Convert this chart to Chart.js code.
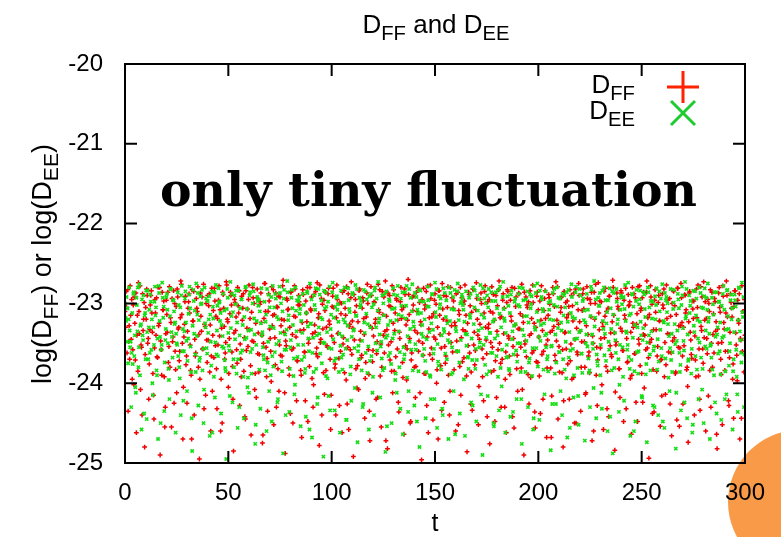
<!DOCTYPE html>
<html>
<head>
<meta charset="utf-8">
<script src="https://cdn.jsdelivr.net/npm/chart.js@4/dist/chart.umd.min.js"></script>
<style>
  html, body { margin: 0; padding: 0; background: #fff; }
  canvas { display: block; }
</style>
</head>
<body>
<canvas id="myChart" width="781" height="537"></canvas>
<script>
// sampling: one value every half unit of t, plus a second set shifted by a quarter
const tStep = 0.5
const tShift = 0.25
const xTicks = [0, 50, 100, 150, 200, 250, 300]
const yTicks = [-25, -24, -23, -22, -21, -20]

// log(D_FF) at t = 0, 0.5, 1, ...
const dff = [
  -23.10,-22.85,-23.62,-24.35,-23.28,-22.78,-23.45,-23.95,-23.02,-22.92,-23.71,-24.62,-23.15,-22.74,-23.38,-24.08,-23.55,-22.88,-23.20,-24.80,
  -23.05,-22.82,-23.50,-24.20,-23.33,-22.90,-23.12,-23.88,-24.45,-22.95,-23.40,-23.67,-22.80,-23.25,-24.90,-23.58,-22.86,-23.08,-23.92,-24.30,
  -22.96,-23.36,-23.74,-22.79,-23.18,-24.55,-23.48,-22.84,-23.00,-23.83,-24.12,-22.92,-23.30,-23.60,-22.72,-23.14,-24.70,-23.42,-22.98,-23.77,
  -24.25,-23.06,-22.88,-23.52,-23.90,-22.83,-23.22,-24.40,-23.66,-22.94,-23.10,-23.80,-24.95,-22.87,-23.35,-23.57,-22.76,-23.26,-24.15,-23.46,
  -22.90,-23.03,-23.86,-24.60,-22.81,-23.40,-23.68,-22.97,-23.16,-24.32,-23.52,-22.78,-23.08,-23.95,-24.50,-22.89,-23.29,-23.62,-22.73,-23.20,
  -24.05,-23.44,-22.86,-23.02,-23.79,-24.85,-22.95,-23.34,-23.58,-22.80,-23.12,-24.28,-23.70,-22.91,-23.06,-23.85,-24.42,-22.84,-23.31,-23.54,
  -22.77,-23.19,-24.65,-23.47,-22.93,-23.00,-23.88,-24.18,-22.82,-23.37,-23.64,-22.98,-23.24,-24.75,-23.50,-22.75,-23.10,-23.92,-24.35,-22.88,
  -23.32,-23.60,-22.79,-23.15,-24.52,-23.43,-22.87,-23.04,-23.82,-24.10,-22.92,-23.28,-23.66,-22.71,-23.21,-24.88,-23.53,-22.96,-23.07,-23.90,
  -24.38,-22.85,-23.39,-23.56,-22.78,-23.17,-24.22,-23.72,-22.90,-23.02,-23.84,-24.68,-22.83,-23.33,-23.61,-22.97,-23.23,-24.48,-23.45,-22.80,
  -23.09,-23.94,-24.30,-22.89,-23.36,-23.63,-22.74,-23.18,-24.78,-23.49,-22.94,-23.01,-23.87,-24.14,-22.86,-23.30,-23.55,-22.81,-23.26,-24.58,
  -23.41,-22.91,-23.05,-23.81,-24.40,-22.77,-23.38,-23.69,-22.99,-23.13,-24.62,-23.51,-22.84,-23.06,-23.96,-24.26,-22.88,-23.29,-23.58,-22.73,
  -23.22,-24.92,-23.46,-22.95,-23.03,-23.78,-24.08,-22.82,-23.35,-23.65,-22.93,-23.19,-24.44,-23.74,-22.87,-23.00,-23.89,-24.72,-22.79,-23.31,
  -23.59,-22.98,-23.25,-24.20,-23.48,-22.76,-23.11,-23.91,-24.55,-22.85,-23.40,-23.62,-22.72,-23.16,-24.82,-23.52,-22.90,-23.04,-23.85,-24.12,
  -22.83,-23.34,-23.67,-22.96,-23.21,-24.36,-23.44,-22.80,-23.08,-23.93,-24.64,-22.89,-23.27,-23.57,-22.70,-23.14,-24.50,-23.71,-22.92,-23.02,
  -23.80,-24.18,-22.86,-23.37,-23.60,-22.99,-23.23,-24.96,-23.50,-22.81,-23.07,-23.88,-24.28,-22.78,-23.32,-23.64,-22.94,-23.17,-24.46,-23.42,
  -22.88,-23.01,-23.83,-24.70,-22.84,-23.39,-23.56,-22.75,-23.20,-24.24,-23.75,-22.91,-23.05,-23.90,-24.40,-22.80,-23.28,-23.61,-22.97,-23.24,
  -24.60,-23.47,-22.86,-23.09,-23.79,-24.15,-22.93,-23.33,-23.68,-22.77,-23.15,-24.86,-23.53,-22.89,-23.03,-23.86,-24.34,-22.82,-23.36,-23.59,
  -22.74,-23.20,-24.52,-23.45,-22.95,-23.00,-23.92,-24.22,-22.85,-23.30,-23.63,-22.98,-23.26,-24.76,-23.49,-22.79,-23.12,-23.84,-24.48,-22.90,
  -23.35,-23.58,-22.72,-23.18,-24.30,-23.70,-22.88,-23.06,-23.95,-24.62,-22.83,-23.41,-23.66,-22.96,-23.22,-24.42,-23.44,-22.81,-23.04,-23.82,
  -24.10,-22.87,-23.32,-23.55,-22.76,-23.16,-24.90,-23.51,-22.92,-23.02,-23.89,-24.26,-22.84,-23.38,-23.62,-22.99,-23.25,-24.56,-23.73,-22.86,
  -23.08,-23.91,-24.38,-22.78,-23.34,-23.60,-22.94,-23.19,-24.68,-23.46,-22.89,-23.01,-23.81,-24.16,-22.80,-23.29,-23.65,-22.73,-23.21,-24.45,
  -23.54,-22.93,-23.05,-23.87,-24.80,-22.85,-23.36,-23.57,-22.97,-23.14,-24.20,-23.72,-22.90,-23.03,-23.93,-24.50,-22.82,-23.31,-23.64,-22.75,
  -23.23,-24.35,-23.48,-22.88,-23.07,-23.80,-24.12,-22.79,-23.39,-23.61,-22.95,-23.17,-24.72,-23.50,-22.86,-23.00,-23.90,-24.28,-22.74,-23.33,
  -23.56,-22.98,-23.24,-24.58,-23.43,-22.81,-23.10,-23.85,-24.42,-22.91,-23.37,-23.67,-22.71,-23.15,-24.84,-23.52,-22.87,-23.04,-23.82,-24.18,
  -22.84,-23.35,-23.59,-22.96,-23.20,-24.32,-23.74,-22.89,-23.02,-23.94,-24.64,-22.80,-23.30,-23.63,-22.93,-23.26,-24.48,-23.45,-22.78,-23.09,
  -23.88,-24.24,-22.86,-23.40,-23.58,-22.72,-23.18,-24.94,-23.49,-22.92,-23.01,-23.83,-24.36,-22.83,-23.33,-23.66,-22.99,-23.22,-24.54,-23.70,
  -22.88,-23.06,-23.92,-24.14,-22.77,-23.38,-23.61,-22.94,-23.16,-24.66,-23.47,-22.85,-23.03,-23.86,-24.46,-22.81,-23.28,-23.56,-22.75,-23.24,
  -24.26,-23.53,-22.90,-23.08,-23.80,-24.74,-22.87,-23.36,-23.64,-22.97,-23.19,-24.40,-23.71,-22.82,-23.05,-23.91,-24.20,-22.79,-23.34,-23.57,
  -22.73,-23.21,-24.60,-23.44,-22.95,-23.00,-23.84,-24.30,-22.86,-23.39,-23.62,-22.98,-23.23,-24.82,-23.50,-22.80,-23.11,-23.89,-24.52,-22.91,
  -23.32,-23.60,-22.72,-23.17,-24.22,-23.68,-22.88,-23.06,-23.95,-24.44,-22.84,-23.37,-23.65,-22.96,-23.25,-24.70,-23.46,-22.78,-23.10,-23.86,
  -23.40
]

// log(D_FF) at t = 0.25, 0.75, 1.25, ...
const dffQ = [
  -23.30,-23.05,-22.83,-23.48,-23.70,-23.15,-22.95,-23.58,-24.02,-23.25,-22.87,-23.40,-23.85,-23.10,-22.78,-23.52,-24.40,-23.34,-22.99,-23.64,
  -23.20,-22.90,-23.44,-23.76,-23.02,-22.84,-23.36,-24.15,-23.56,-23.12,-22.93,-23.68,-23.28,-22.80,-23.47,-23.90,-23.08,-22.97,-24.55,-23.38,
  -23.14,-22.86,-23.54,-23.80,-23.24,-22.94,-23.42,-24.25,-23.60,-23.04,-22.82,-23.32,-23.72,-23.18,-22.76,-23.50,-24.05,-23.26,-22.91,-23.66,
  -23.35,-22.98,-23.12,-23.84,-24.70,-23.22,-22.85,-23.45,-23.62,-23.06,-22.79,-23.39,-23.95,-23.16,-22.92,-23.57,-24.32,-23.29,-23.00,-23.74,
  -23.46,-22.88,-23.27,-23.66,-24.10,-23.09,-22.81,-23.53,-23.82,-23.19,-22.96,-23.41,-24.60,-23.31,-22.86,-23.06,-23.70,-23.49,-22.77,-23.23,
  -23.88,-23.13,-22.90,-23.61,-24.20,-23.37,-22.99,-23.17,-23.75,-23.03,-22.84,-23.51,-23.92,-23.21,-22.88,-23.43,-24.45,-23.59,-23.07,-22.95,
  -23.33,-23.78,-23.11,-22.80,-23.48,-24.08,-23.25,-22.93,-23.63,-23.86,-23.01,-22.87,-23.40,-24.65,-23.19,-22.75,-23.55,-23.69,-23.10,-22.97,
  -23.44,-23.98,-23.28,-22.83,-23.14,-23.77,-24.30,-23.05,-22.91,-23.52,-23.65,-23.20,-22.78,-23.36,-24.12,-23.47,-22.94,-23.08,-23.81,-23.30,
  -22.86,-23.58,-24.50,-23.16,-22.82,-23.42,-23.72,-23.02,-22.98,-23.34,-23.90,-23.24,-22.89,-23.61,-24.22,-23.12,-22.80,-23.50,-23.79,-23.07,
  -22.92,-23.38,-24.02,-23.27,-22.85,-23.56,-23.67,-23.13,-22.77,-23.45,-24.40,-23.32,-22.96,-23.09,-23.84,-23.53,-22.88,-23.22,-23.70,-24.15,
  -23.04,-22.81,-23.49,-23.76,-23.18,-22.95,-23.37,-24.28,-23.60,-23.00,-22.86,-23.43,-23.87,-23.15,-22.79,-23.55,-24.58,-23.26,-22.93,-23.64,
  -23.31,-22.89,-23.11,-23.82,-24.06,-23.23,-22.84,-23.46,-23.68,-23.06,-22.97,-23.39,-23.94,-23.17,-22.76,-23.58,-24.35,-23.29,-22.90,-23.73,
  -23.41,-22.99,-23.20,-23.63,-24.18,-23.08,-22.83,-23.51,-23.80,-23.14,-22.92,-23.35,-24.72,-23.33,-22.87,-23.03,-23.71,-23.48,-22.78,-23.25,
  -23.85,-23.12,-22.94,-23.57,-24.24,-23.36,-22.98,-23.19,-23.74,-23.05,-22.82,-23.53,-23.96,-23.21,-22.89,-23.44,-24.48,-23.62,-23.09,-22.91,
  -23.34,-23.79,-23.10,-22.81,-23.47,-24.12,-23.27,-22.95,-23.65,-23.88,-23.02,-22.85,-23.42,-24.62,-23.18,-22.77,-23.56,-23.70,-23.13,-22.96,
  -23.45,-24.00,-23.30,-22.84,-23.15,-23.78,-24.34,-23.07,-22.90,-23.54,-23.66,-23.22,-22.79,-23.38,-24.10,-23.49,-22.93,-23.06,-23.83,-23.28,
  -22.88,-23.60,-24.52,-23.14,-22.80,-23.43,-23.73,-23.01,-22.97,-23.35,-23.91,-23.25,-22.86,-23.62,-24.26,-23.11,-22.82,-23.52,-23.77,-23.08,
  -22.94,-23.40,-24.04,-23.26,-22.87,-23.57,-23.69,-23.12,-22.78,-23.46,-24.42,-23.31,-22.95,-23.10,-23.86,-23.55,-22.89,-23.21,-23.72,-24.18,
  -23.03,-22.83,-23.50,-23.75,-23.17,-22.96,-23.38,-24.30,-23.61,-22.99,-22.85,-23.44,-23.89,-23.16,-22.80,-23.54,-24.56,-23.27,-22.92,-23.65,
  -23.32,-22.88,-23.13,-23.81,-24.08,-23.24,-22.86,-23.47,-23.67,-23.05,-22.98,-23.40,-23.93,-23.19,-22.77,-23.59,-24.36,-23.30,-22.91,-23.74,
  -23.42,-22.97,-23.21,-23.64,-24.20,-23.09,-22.84,-23.52,-23.81,-23.15,-22.93,-23.36,-24.68,-23.34,-22.88,-23.04,-23.72,-23.47,-22.79,-23.26,
  -23.86,-23.11,-22.92,-23.58,-24.22,-23.37,-22.99,-23.18,-23.76,-23.04,-22.83,-23.51,-23.95,-23.22,-22.87,-23.45,-24.50,-23.61,-23.08,-22.90,
  -23.35,-23.80,-23.09,-22.82,-23.48,-24.14,-23.28,-22.94,-23.66,-23.87,-23.00,-22.86,-23.41,-24.60,-23.20,-22.76,-23.55,-23.71,-23.12,-22.97,
  -23.44,-24.02,-23.29,-22.85,-23.16,-23.79,-24.32,-23.06,-22.91,-23.53,-23.64,-23.23,-22.80,-23.37,-24.11,-23.48,-22.94,-23.07,-23.82,-23.31,
  -22.87,-23.59,-24.48,-23.15,-22.81,-23.44,-23.73,-23.03,-22.98,-23.36,-23.90,-23.25,-22.88,-23.63,-24.24,-23.13,-22.79,-23.51,-23.78,-23.06,
  -22.93,-23.39,-24.06,-23.27,-22.86,-23.56,-23.68,-23.14,-22.78,-23.45,-24.38,-23.33,-22.96,-23.11,-23.85,-23.54,-22.90,-23.22,-23.71,-24.16,
  -23.02,-22.82,-23.49,-23.77,-23.19,-22.95,-23.39,-24.26,-23.62,-23.00,-22.84,-23.43,-23.88,-23.14,-22.81,-23.55,-24.54,-23.28,-22.93,-23.66,
  -23.30,-22.89,-23.12,-23.83,-24.04,-23.23,-22.85,-23.46,-23.69,-23.07,-22.97,-23.41,-23.92,-23.18,-22.77,-23.57,-24.34,-23.29,-22.92,-23.75,
  -23.43,-22.98,-23.19,-23.63,-24.16,-23.10,-22.83,-23.50,-23.80,-23.13,-22.94,-23.35,-24.64,-23.32,-22.87,-23.05,-23.70,-23.49,-22.78,-23.24,
  -23.84,-23.12,-22.90,-23.60,-24.28,-23.36,-22.99,-23.17,-23.76,-23.04,-22.84,-23.52,-23.97,-23.21,-22.88,-23.44,-24.44,-23.60,-23.10,-22.95
]

// log(D_EE) at t = 0, 0.5, 1, ...
const dee = [
  -23.00,-23.22,-23.48,-23.75,-22.80,-23.55,-24.30,-23.12,-22.88,-23.66,-24.05,-22.93,-23.35,-23.80,-22.76,-23.28,-24.58,-23.40,-22.90,-23.15,
  -23.70,-24.45,-22.84,-23.30,-23.62,-22.98,-23.20,-24.15,-23.52,-22.79,-23.05,-23.90,-24.70,-22.87,-23.42,-23.58,-22.74,-23.18,-24.35,-23.46,
  -22.92,-23.08,-23.82,-24.20,-22.82,-23.36,-23.68,-22.96,-23.26,-24.62,-23.50,-22.86,-23.02,-23.94,-24.40,-22.78,-23.32,-23.60,-22.94,-23.24,
  -24.10,-23.44,-22.89,-23.06,-23.86,-24.85,-22.83,-23.38,-23.64,-22.75,-23.14,-24.28,-23.72,-22.91,-23.00,-23.84,-24.50,-22.80,-23.30,-23.56,
  -22.97,-23.20,-24.66,-23.48,-22.85,-23.04,-23.92,-24.18,-22.77,-23.34,-23.66,-22.99,-23.22,-24.38,-23.54,-22.88,-23.09,-23.81,-24.95,-22.82,
  -23.37,-23.59,-22.73,-23.16,-24.24,-23.70,-22.90,-23.01,-23.88,-24.56,-22.84,-23.40,-23.62,-22.95,-23.27,-24.44,-23.45,-22.79,-23.07,-23.93,
  -24.12,-22.86,-23.33,-23.57,-22.76,-23.19,-24.76,-23.52,-22.92,-23.03,-23.83,-24.32,-22.81,-23.36,-23.65,-22.98,-23.23,-24.60,-23.74,-22.89,
  -23.05,-23.90,-24.48,-22.78,-23.31,-23.61,-22.94,-23.17,-24.20,-23.47,-22.87,-23.00,-23.85,-24.88,-22.83,-23.39,-23.58,-22.72,-23.21,-24.36,
  -23.55,-22.93,-23.06,-23.91,-24.14,-22.80,-23.35,-23.67,-22.97,-23.13,-24.54,-23.71,-22.88,-23.02,-23.87,-24.42,-22.85,-23.29,-23.60,-22.75,
  -23.25,-24.68,-23.43,-22.90,-23.08,-23.82,-24.26,-22.82,-23.38,-23.63,-22.96,-23.20,-24.92,-23.50,-22.86,-23.04,-23.94,-24.16,-22.79,-23.32,
  -23.57,-22.74,-23.18,-24.34,-23.69,-22.91,-23.01,-23.86,-24.62,-22.84,-23.41,-23.64,-22.99,-23.24,-24.46,-23.46,-22.81,-23.07,-23.89,-24.22,
  -22.87,-23.34,-23.56,-22.77,-23.15,-24.74,-23.53,-22.93,-23.02,-23.84,-24.30,-22.83,-23.37,-23.62,-22.95,-23.26,-24.58,-23.72,-22.88,-23.05,
  -23.92,-24.40,-22.80,-23.30,-23.59,-22.73,-23.19,-24.18,-23.48,-22.90,-23.00,-23.81,-24.86,-22.85,-23.40,-23.66,-22.97,-23.22,-24.50,-23.44,
  -22.89,-23.06,-23.88,-24.12,-22.78,-23.35,-23.61,-22.94,-23.16,-24.64,-23.70,-22.86,-23.03,-23.93,-24.36,-22.82,-23.32,-23.58,-22.76,-23.23,
  -24.28,-23.51,-22.92,-23.08,-23.85,-24.80,-22.84,-23.38,-23.65,-22.98,-23.20,-24.44,-23.45,-22.79,-23.04,-23.90,-24.20,-22.88,-23.33,-23.57,
  -22.74,-23.17,-24.56,-23.73,-22.91,-23.01,-23.83,-24.32,-22.81,-23.36,-23.63,-22.96,-23.25,-24.70,-23.49,-22.87,-23.07,-23.87,-24.10,-22.83,
  -23.31,-23.60,-22.75,-23.21,-24.38,-23.46,-22.89,-23.02,-23.95,-24.66,-22.85,-23.39,-23.67,-22.93,-23.18,-24.24,-23.71,-22.80,-23.05,-23.82,
  -24.48,-22.90,-23.34,-23.55,-22.77,-23.14,-24.90,-23.52,-22.94,-23.00,-23.89,-24.16,-22.82,-23.37,-23.62,-22.97,-23.23,-24.54,-23.44,-22.86,
  -23.06,-23.92,-24.34,-22.79,-23.30,-23.58,-22.73,-23.19,-24.62,-23.68,-22.91,-23.03,-23.84,-24.42,-22.84,-23.35,-23.64,-22.98,-23.26,-24.20,
  -23.50,-22.88,-23.04,-23.86,-24.76,-22.81,-23.40,-23.60,-22.95,-23.16,-24.30,-23.74,-22.89,-23.01,-23.91,-24.58,-22.78,-23.33,-23.56,-22.75,
  -23.22,-24.46,-23.47,-22.92,-23.07,-23.83,-24.14,-22.85,-23.38,-23.66,-22.99,-23.20,-24.84,-23.53,-22.87,-23.02,-23.88,-24.26,-22.80,-23.31,
  -23.61,-22.94,-23.24,-24.40,-23.70,-22.90,-23.05,-23.94,-24.68,-22.83,-23.36,-23.59,-22.76,-23.17,-24.18,-23.45,-22.86,-23.00,-23.81,-24.52,
  -22.82,-23.34,-23.63,-22.97,-23.21,-24.72,-23.50,-22.88,-23.08,-23.87,-24.30,-22.79,-23.39,-23.57,-22.72,-23.18,-24.44,-23.73,-22.93,-23.03,
  -23.90,-24.12,-22.84,-23.32,-23.65,-22.96,-23.25,-24.60,-23.48,-22.81,-23.06,-23.84,-24.88,-22.87,-23.37,-23.62,-22.98,-23.20,-24.36,-23.52,
  -22.90,-23.01,-23.92,-24.22,-22.77,-23.35,-23.58,-22.74,-23.15,-24.66,-23.71,-22.89,-23.04,-23.85,-24.48,-22.83,-23.30,-23.60,-22.95,-23.23,
  -24.16,-23.46,-22.86,-23.07,-23.89,-24.74,-22.80,-23.40,-23.64,-22.97,-23.19,-24.28,-23.54,-22.91,-23.02,-23.83,-24.40,-22.85,-23.33,-23.56,
  -22.76,-23.22,-24.56,-23.69,-22.92,-23.00,-23.93,-24.10,-22.82,-23.38,-23.61,-22.99,-23.26,-24.82,-23.47,-22.88,-23.06,-23.86,-24.34,-22.79,
  -23.31,-23.59,-22.73,-23.16,-24.44,-23.72,-22.90,-23.03,-23.88,-24.62,-22.84,-23.36,-23.66,-22.94,-23.21,-24.20,-23.49,-22.87,-23.05,-23.82,
  -24.50,-22.81,-23.34,-23.57,-22.75,-23.18,-24.70,-23.51,-22.93,-23.01,-23.90,-24.24,-22.86,-23.39,-23.63,-22.98,-23.24,-24.46,-23.43,-22.78,
  -23.08,-23.85,-24.14,-22.83,-23.32,-23.60,-22.96,-23.20,-24.58,-23.70,-22.89,-23.04,-23.92,-24.36,-22.80,-23.35,-23.62,-22.74,-23.17,-24.30,
  -23.45
]

// log(D_EE) at t = 0.25, 0.75, 1.25, ...
const deeQ = [
  -23.18,-22.92,-23.06,-23.20,-23.34,-23.48,-23.62,-23.76,-22.86,-23.40,-24.12,-23.02,-22.80,-23.55,-23.90,-23.26,-22.95,-23.46,-24.38,-23.12,
  -22.84,-23.36,-23.70,-23.08,-22.89,-23.58,-24.00,-23.30,-22.98,-23.15,-23.84,-23.44,-22.78,-23.22,-24.50,-23.52,-22.93,-23.04,-23.74,-23.32,
  -22.88,-23.50,-23.96,-23.16,-22.82,-23.42,-22.96,-23.10,-23.24,-23.38,-23.52,-23.66,-23.80,-23.05,-22.90,-23.60,-24.22,-23.35,-22.85,-23.47,
  -23.72,-23.13,-22.79,-23.54,-24.44,-23.28,-22.97,-23.09,-23.86,-23.41,-22.87,-23.21,-23.68,-23.01,-22.83,-23.57,-24.08,-23.25,-22.94,-23.63,
  -23.37,-22.91,-23.14,-23.78,-24.62,-23.19,-22.86,-23.49,-23.64,-23.03,-22.81,-22.98,-23.12,-23.27,-23.41,-23.56,-23.71,-23.85,-23.07,-22.93,
  -23.53,-24.16,-23.31,-22.88,-23.11,-23.80,-23.45,-22.84,-23.24,-23.70,-24.30,-23.06,-22.95,-23.59,-23.92,-23.17,-22.80,-23.43,-24.05,-23.34,
  -22.90,-23.61,-23.88,-23.00,-22.85,-23.39,-24.52,-23.22,-22.97,-22.95,-23.10,-23.25,-23.40,-23.55,-23.70,-23.84,-23.14,-22.82,-23.48,-24.10,
  -23.29,-22.92,-23.66,-23.79,-23.05,-22.88,-23.51,-24.24,-23.20,-22.79,-23.37,-23.73,-23.10,-22.94,-23.58,-24.40,-23.33,-22.86,-23.15,-23.82,
  -23.46,-22.83,-23.27,-23.69,-24.02,-23.09,-22.96,-23.52,-22.92,-23.07,-23.22,-23.37,-23.52,-23.67,-23.82,-23.12,-22.87,-23.44,-24.58,-23.26,
  -22.95,-23.62,-23.86,-23.02,-22.81,-23.40,-24.18,-23.30,-22.89,-23.18,-23.75,-23.49,-22.84,-23.06,-23.91,-23.36,-22.98,-23.56,-24.34,-23.14,
  -22.86,-23.45,-23.72,-23.04,-22.93,-23.08,-23.23,-23.38,-23.53,-23.68,-23.83,-23.20,-22.80,-23.57,-24.46,-23.28,-22.96,-23.11,-23.79,-23.42,
  -22.89,-23.33,-24.06,-23.16,-22.82,-23.60,-23.70,-23.05,-22.97,-23.47,-24.26,-23.24,-22.85,-23.13,-23.87,-23.54,-22.91,-23.30,-23.66,-24.12,
  -23.01,-22.84,-23.50,-22.94,-23.09,-23.24,-23.39,-23.54,-23.69,-23.84,-23.15,-22.88,-23.43,-24.54,-23.27,-22.95,-23.62,-23.76,-23.07,-22.81,
  -23.38,-23.96,-23.21,-22.90,-23.14,-23.80,-24.32,-23.03,-22.86,-23.55,-23.64,-23.19,-22.78,-23.41,-24.10,-23.48,-22.93,-23.10,-23.84,-23.29,
  -22.87,-23.58,-24.48,-23.13,-22.83,-22.97,-23.12,-23.27,-23.42,-23.57,-23.72,-23.86,-23.04,-22.96,-23.36,-23.92,-23.25,-22.89,-23.63,-24.20,
  -23.11,-22.82,-23.51,-23.78,-23.06,-22.94,-23.40,-24.40,-23.32,-22.87,-23.17,-23.70,-23.46,-22.80,-23.22,-23.89,-23.55,-22.92,-23.08,-24.64,
  -23.35,-22.85,-23.60,-23.74,-23.00,-22.98,-22.93,-23.08,-23.23,-23.38,-23.53,-23.68,-23.82,-23.14,-22.88,-23.44,-24.28,-23.26,-22.84,-23.57,
  -23.71,-23.09,-22.95,-23.49,-24.14,-23.31,-22.81,-23.18,-23.77,-23.43,-22.90,-23.05,-23.85,-23.37,-22.86,-23.62,-24.50,-23.20,-22.97,-23.66,
  -23.40,-22.83,-23.13,-23.81,-24.04,-22.92,-23.07,-23.22,-23.37,-23.52,-23.67,-23.82,-23.12,-22.89,-23.45,-24.36,-23.28,-22.94,-23.59,-23.73,
  -23.02,-22.80,-23.50,-24.20,-23.33,-22.96,-23.16,-23.86,-23.47,-22.85,-23.24,-23.69,-23.06,-22.91,-23.56,-24.44,-23.30,-22.87,-23.11,-23.79,
  -23.42,-22.84,-23.27,-22.95,-23.10,-23.25,-23.40,-23.55,-23.70,-23.85,-23.08,-22.97,-23.54,-24.26,-23.21,-22.82,-23.39,-23.74,-23.04,-22.93,
  -23.61,-24.10,-23.34,-22.88,-23.15,-23.83,-23.48,-22.86,-23.23,-23.68,-24.56,-23.12,-22.92,-23.57,-23.90,-23.19,-22.79,-23.44,-24.16,-23.36,
  -22.90,-23.63,-23.87,-22.94,-23.09,-23.24,-23.39,-23.54,-23.69,-23.84,-23.16,-22.83,-23.50,-24.06,-23.29,-22.95,-23.64,-23.78,-23.03,-22.87,
  -23.52,-24.32,-23.22,-22.80,-23.38,-23.72,-23.11,-22.96,-23.58,-24.42,-23.32,-22.85,-23.14,-23.81,-23.46,-22.82,-23.26,-23.70,-24.02,-23.08,
  -22.93,-23.55,-22.92,-23.07,-23.22,-23.37,-23.52,-23.67,-23.82,-23.13,-22.88,-23.43,-24.60,-23.27,-22.97,-23.61,-23.88,-23.01,-22.84,-23.40,
  -24.18,-23.31,-22.89,-23.17,-23.76,-23.49,-22.86,-23.05,-23.84,-23.35,-22.98,-23.59,-24.30,-23.20,-22.81,-23.45,-23.73,-23.10,-22.94,-23.66,
  -24.48,-23.24,-22.87,-22.96,-23.11,-23.26,-23.41,-23.56,-23.71,-23.86,-23.07,-22.83,-23.51,-24.12,-23.34,-22.95,-23.62,-23.77,-23.02,-22.90,
  -23.47,-24.24,-23.19,-22.82,-23.39,-23.70,-23.12,-22.97,-23.57,-24.52,-23.28,-22.85,-23.15,-23.83,-23.44,-22.80,-23.23,-23.68,-24.08,-23.06,
  -22.91,-23.54,-22.93,-23.08,-23.23,-23.38,-23.53,-23.68,-23.83,-23.14,-22.86,-23.42,-24.38,-23.30,-22.98,-23.60,-23.89,-23.03,-22.88,-23.41,
  -24.20,-23.33,-22.84,-23.16,-23.78,-23.50,-22.89,-23.06,-23.85,-23.36,-22.96,-23.58,-24.14,-23.21,-22.81,-23.46,-23.74,-23.11,-22.92,-23.64
]

const red = '#f00000'
const green = '#14de14'
const font = '"Liberation Sans", Arial, Helvetica, sans-serif'

function toPoints(vals, offset) {
  return vals.map((v, i) => ({ x: offset + i * tStep, y: v }))
}

// text with subscripts: parts = [[text, isSub], ...]
const subScale = 0.78
function richWidth(ctx, parts, size) {
  let w = 0
  for (const [txt, sub] of parts) {
    ctx.font = (sub ? size * subScale : size) + 'px ' + font
    w += ctx.measureText(txt).width
  }
  return w
}
function drawRich(ctx, parts, x, y, size, align) {
  const w = richWidth(ctx, parts, size)
  let cx = align === 'center' ? x - w / 2 : align === 'right' ? x - w : x
  ctx.textAlign = 'left'
  ctx.textBaseline = 'alphabetic'
  for (const [txt, sub] of parts) {
    ctx.font = (sub ? size * subScale : size) + 'px ' + font
    ctx.fillText(txt, cx, sub ? y + size * 0.27 : y)
    cx += ctx.measureText(txt).width
  }
}

const gnuplotLook = {
  id: 'gnuplotLook',
  beforeDraw(chart) {
    const ctx = chart.ctx
    ctx.save()
    ctx.fillStyle = '#fff'
    ctx.fillRect(0, 0, chart.width, chart.height)
    // orange blob in the lower right corner of the picture
    ctx.fillStyle = '#f99a48'
    ctx.beginPath()
    ctx.arc(800, 502, 72, 0, Math.PI * 2)
    ctx.fill()
    ctx.restore()
  },
  afterDraw(chart) {
    const ctx = chart.ctx
    const a = chart.chartArea
    const xs = chart.scales.x, ys = chart.scales.y
    ctx.save()
    ctx.strokeStyle = '#000'
    ctx.lineWidth = 2
    ctx.strokeRect(a.left, a.top, a.right - a.left, a.bottom - a.top)
    const tl = 12
    ctx.beginPath()
    xTicks.forEach(v => {
      const px = xs.getPixelForValue(v)
      ctx.moveTo(px, a.bottom); ctx.lineTo(px, a.bottom - tl)
      ctx.moveTo(px, a.top); ctx.lineTo(px, a.top + tl)
    })
    yTicks.forEach(v => {
      const py = ys.getPixelForValue(v)
      ctx.moveTo(a.left, py); ctx.lineTo(a.left + tl, py)
      ctx.moveTo(a.right, py); ctx.lineTo(a.right - tl, py)
    })
    ctx.stroke()

    ctx.fillStyle = '#000'
    // title
    drawRich(ctx, [['D', false], ['FF', true], [' and D', false], ['EE', true]], 436, 33, 26, 'center')

    // y axis label, rotated
    ctx.save()
    ctx.translate(51, 264)
    ctx.rotate(-Math.PI / 2)
    drawRich(ctx, [['log(D', false], ['FF', true], [') or log(D', false], ['EE', true], [')', false]], 0, 0, 27, 'center')
    ctx.restore()

    // legend
    drawRich(ctx, [['D', false], ['FF', true]], 635, 93, 26, 'right')
    drawRich(ctx, [['D', false], ['EE', true]], 635, 119, 26, 'right')
    ctx.lineWidth = 3
    ctx.strokeStyle = '#ff2200'
    ctx.beginPath()
    ctx.moveTo(667, 87); ctx.lineTo(699, 87)
    ctx.moveTo(683, 71); ctx.lineTo(683, 103)
    ctx.stroke()
    ctx.strokeStyle = '#1fcc30'
    ctx.beginPath()
    ctx.moveTo(671, 101); ctx.lineTo(695, 125)
    ctx.moveTo(695, 101); ctx.lineTo(671, 125)
    ctx.stroke()

    // annotation
    const note = 'only tiny fluctuation'
    ctx.font = 'bold 100px "DejaVu Serif", serif'
    const size = 100 * 537 / ctx.measureText(note).width
    ctx.font = 'bold ' + size + 'px "DejaVu Serif", serif'
    ctx.textAlign = 'left'
    ctx.textBaseline = 'alphabetic'
    ctx.fillText(note, 160, 206)
    ctx.restore()
  }
}

const ctx = document.getElementById('myChart').getContext('2d')
const chart = new Chart(ctx, {
  type: 'scatter',
  data: {
    datasets: [
      {
        label: 'D_FF',
        data: toPoints(dff, 0).concat(toPoints(dffQ, tShift)),
        pointStyle: 'cross',
        radius: 2.4,
        borderWidth: 1.5,
        borderColor: red,
        backgroundColor: red,
        order: 2
      },
      {
        label: 'D_EE',
        data: toPoints(dee, 0).concat(toPoints(deeQ, tShift)),
        pointStyle: 'crossRot',
        radius: 2.3,
        borderWidth: 1.6,
        borderColor: green,
        backgroundColor: green,
        order: 1
      }
    ]
  },
  options: {
    responsive: false,
    animation: false,
    events: [],
    layout: { padding: { left: 0, top: 64, right: 36, bottom: 0 } },
    plugins: {
      legend: { display: false },
      title: { display: false },
      tooltip: { enabled: false }
    },
    scales: {
      x: {
        type: 'linear',
        min: 0,
        max: 300,
        afterFit: s => { s.height = 74 },
        afterBuildTicks: s => { s.ticks = xTicks.map(v => ({ value: v })) },
        grid: { display: false },
        border: { display: false },
        ticks: { color: '#000', font: { family: font, size: 24 }, padding: 8, maxRotation: 0 },
        title: { display: true, text: 't', color: '#000', font: { family: font, size: 25, lineHeight: 1.0 }, padding: { top: 0, bottom: 0 } }
      },
      y: {
        type: 'linear',
        min: -25,
        max: -20,
        afterFit: s => { s.width = 125 },
        afterBuildTicks: s => { s.ticks = yTicks.map(v => ({ value: v })) },
        grid: { display: false },
        border: { display: false },
        ticks: { color: '#000', font: { family: font, size: 24 }, padding: 14 }
      }
    }
  },
  plugins: [gnuplotLook]
})
</script>
</body>
</html>
